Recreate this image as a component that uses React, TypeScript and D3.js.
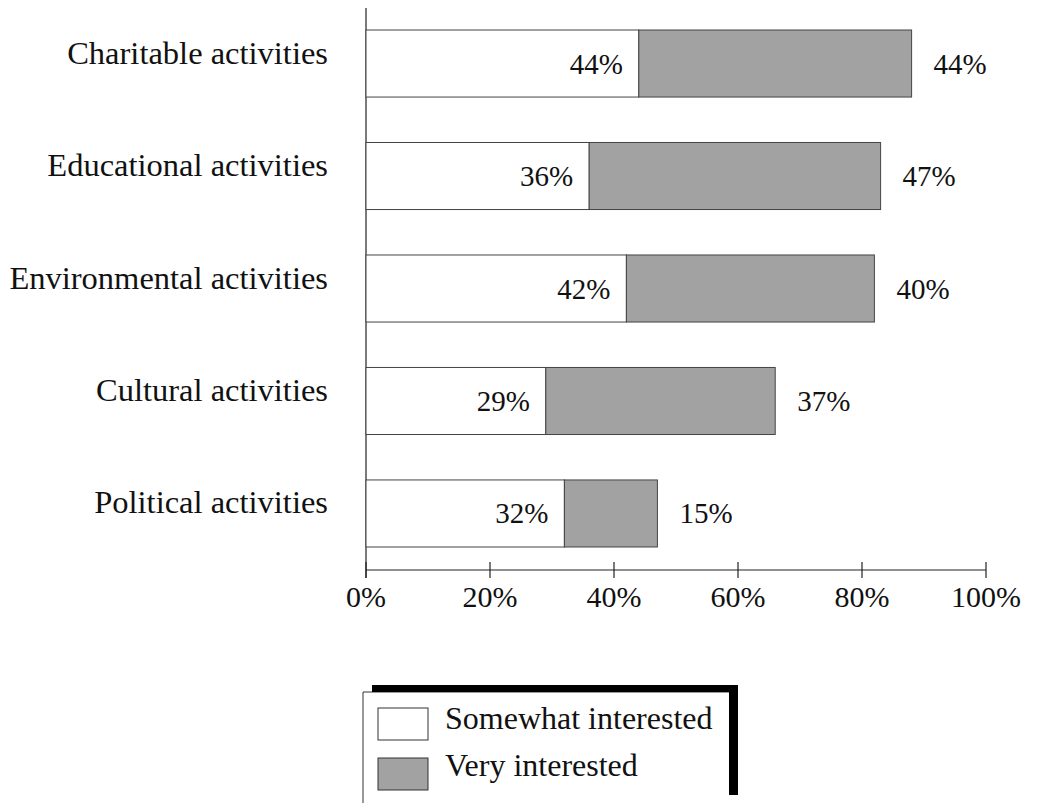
import React from "react";
import * as d3 from "d3";

const categories = [
  "Charitable activities",
  "Educational activities",
  "Environmental activities",
  "Cultural activities",
  "Political activities",
];
const somewhat = [44, 36, 42, 29, 32];
const very = [44, 47, 40, 37, 15];
const ticks = [0, 20, 40, 60, 80, 100];
const legendLabels = ["Somewhat interested", "Very interested"];

const FONT = "'Liberation Serif', 'Times New Roman', serif";
const GRAY = "#a2a2a2";

export default function App() {
  const x = d3.scaleLinear().domain([0, 100]).range([366, 986]);
  const y = d3
    .scaleBand<string>()
    .domain(categories)
    .range([30, 547])
    .paddingInner(0.404)
    .paddingOuter(0);
  const bh = y.bandwidth();

  return (
    <svg
      width={1039}
      height={803}
      style={{ position: "absolute", left: 0, top: 0, background: "#fff" }}
      fontFamily={FONT}
    >
      {/* axes */}
      <line x1={x(0)} x2={x(0)} y1={8} y2={578} stroke="#222" strokeWidth={1.2} />
      <line x1={x(0)} x2={x(100)} y1={570} y2={570} stroke="#222" strokeWidth={1.2} />
      {ticks.map((t) => (
        <g key={t}>
          <line x1={x(t)} x2={x(t)} y1={562} y2={578} stroke="#222" strokeWidth={1.2} />
          <text x={x(t)} y={607} fontSize={30} textAnchor="middle" fill="#111">
            {t}%
          </text>
        </g>
      ))}
      {categories.map((c, i) => {
        const y0 = y(c)!;
        const s = somewhat[i];
        const v = very[i];
        return (
          <g key={c}>
            <text x={328} y={y0 + bh / 2} fontSize={32.5} textAnchor="end" fill="#111">
              {c}
            </text>
            <rect x={x(0)} y={y0} width={x(s) - x(0)} height={bh} fill="#fff" stroke="#444" strokeWidth={1} />
            <rect x={x(s)} y={y0} width={x(s + v) - x(s)} height={bh} fill={GRAY} stroke="#444" strokeWidth={1} />
            <text x={x(s) - 16} y={y0 + bh / 2 + 10} fontSize={29} textAnchor="end" fill="#111">
              {s}%
            </text>
            <text x={x(s + v) + 22} y={y0 + bh / 2 + 10} fontSize={29} textAnchor="start" fill="#111">
              {v}%
            </text>
          </g>
        );
      })}
      {/* legend */}
      <g>
        <line x1={363} x2={363} y1={692} y2={803} stroke="#333" strokeWidth={1} />
        <line x1={363} x2={729} y1={692} y2={692} stroke="#333" strokeWidth={1} />
        <rect x={372} y={685} width={366} height={7} fill="#000" />
        <rect x={729} y={685} width={9} height={110} fill="#000" />
        <rect x={378} y={708} width={50} height={32} fill="#fff" stroke="#333" strokeWidth={1} />
        <rect x={378} y={758} width={50} height={32} fill={GRAY} stroke="#333" strokeWidth={1} />
        {legendLabels.map((l, i) => (
          <text key={l} x={445} y={729 + i * 47} fontSize={32} fill="#111">
            {l}
          </text>
        ))}
      </g>
    </svg>
  );
}
